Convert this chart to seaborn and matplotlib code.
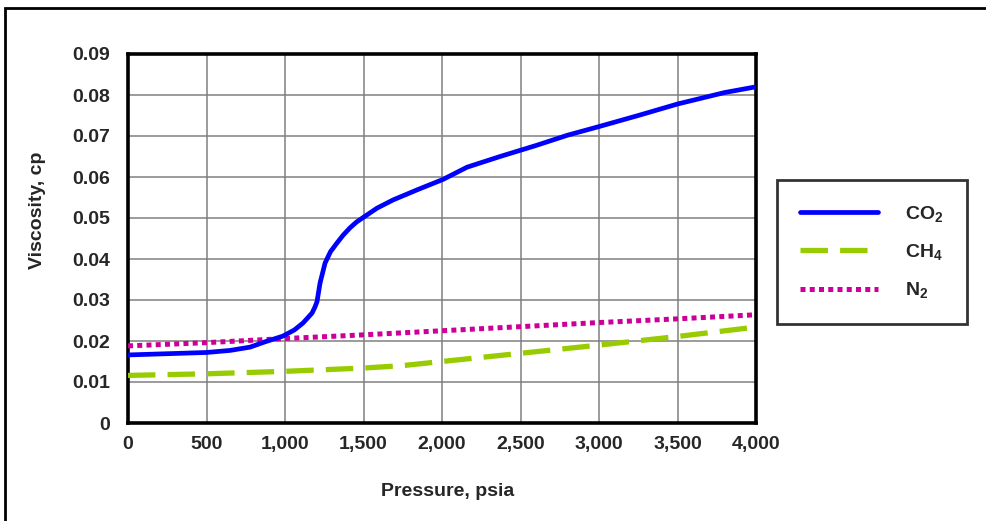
import matplotlib
matplotlib.use("Agg")
import matplotlib.pyplot as plt
import matplotlib.patches as mpatches
import seaborn as sns

# values
co2_p = [0, 250, 500, 650, 777, 873, 987, 1060, 1115, 1172, 1191, 1204, 1223, 1255, 1290,
         1331, 1370, 1414, 1455, 1497, 1586, 1688, 1850, 2006, 2160, 2370, 2600, 2800, 3000,
         3250, 3500, 3800, 4000]
co2_v = [0.0166, 0.0169, 0.0172, 0.0177, 0.0185, 0.0198, 0.0212, 0.0227, 0.0244, 0.0268,
         0.0283, 0.0296, 0.0341, 0.0390, 0.0418, 0.0439, 0.0458, 0.0476, 0.0490, 0.0501,
         0.0524, 0.0544, 0.0570, 0.0594, 0.0624, 0.0650, 0.0677, 0.0702, 0.0723, 0.0750,
         0.0778, 0.0806, 0.0820]

ch4_p = [0, 500, 1000, 1500, 1750, 2000, 2500, 3000, 3500, 4000]
ch4_v = [0.0116, 0.0120, 0.0126, 0.0134, 0.0140, 0.0150, 0.0170, 0.0190, 0.0211, 0.0234]

n2_p = [0, 500, 1000, 1500, 2000, 2500, 3000, 3500, 4000]
n2_v = [0.0188, 0.0196, 0.0206, 0.0215, 0.0225, 0.0235, 0.0245, 0.0254, 0.0264]

labels = ["CO$_2$", "CH$_4$", "N$_2$"]
x_ticks = [0, 500, 1000, 1500, 2000, 2500, 3000, 3500, 4000]
y_ticks = [0, 0.01, 0.02, 0.03, 0.04, 0.05, 0.06, 0.07, 0.08, 0.09]

sns.set_style("white")
plt.rcParams["font.family"] = ["Liberation Sans", "DejaVu Sans"]
plt.rcParams["font.weight"] = "bold"
plt.rcParams["mathtext.fontset"] = "custom"
plt.rcParams["mathtext.rm"] = "Liberation Sans:bold"
plt.rcParams["mathtext.it"] = "Liberation Sans:bold"
plt.rcParams["mathtext.bf"] = "Liberation Sans:bold"

fig = plt.figure(figsize=(9.86, 5.21), dpi=100)
ax = fig.add_axes([128 / 986, 1 - 423 / 521, 628 / 986, 369 / 521])

# outer frame (only top and left edges visible)
fig.patches.append(mpatches.Rectangle((5 / 986, -0.1), 1.2, 1 - 8 / 521 + 0.1,
                                      transform=fig.transFigure, fill=False,
                                      edgecolor="black", lw=2))

sns.lineplot(x=n2_p, y=n2_v, ax=ax, color="#CC0099", lw=3.6,
             linestyle=(0, (1.0, 0.85)), label=labels[2], zorder=3)
sns.lineplot(x=ch4_p, y=ch4_v, ax=ax, color="#99CC00", lw=3.8,
             linestyle=(0, (5.2, 2.3)), label=labels[1], zorder=3)
sns.lineplot(x=co2_p, y=co2_v, ax=ax, color="#0000FF", lw=3.4,
             label=labels[0], zorder=4)

ax.set_xlim(0, 4000)
ax.set_ylim(0, 0.09)
ax.set_xticks(x_ticks)
ax.set_yticks(y_ticks)
ax.set_xticklabels([f"{t:,}" for t in x_ticks])
ax.set_yticklabels(["0" if t == 0 else f"{t:.2f}" for t in y_ticks])
ax.tick_params(axis="both", labelsize=14, length=4, width=1, color="#808080")
ax.tick_params(axis="x", pad=15)
ax.tick_params(axis="y", pad=9)
for lab in ax.get_xticklabels():
    lab.set_fontweight("bold")
    lab.set_verticalalignment("baseline")
for lab in ax.get_yticklabels():
    lab.set_fontweight("bold")
ax.grid(True, color="#808080", lw=1.1)
ax.set_axisbelow(True)
for s in ax.spines.values():
    s.set_visible(True)
    s.set_color("black")
    s.set_linewidth(2.6)

ax.set_xlabel("")
ax.set_ylabel("")
fig.text(448 / 986, 1 - 492 / 521, "Pressure, psia", fontsize=14, fontweight="bold",
         ha="center", va="center")
fig.text(38 / 986, 1 - 210 / 521, "Viscosity, cp", fontsize=14, fontweight="bold",
         ha="center", va="center", rotation=90)

handles, labs = ax.get_legend_handles_labels()
order = [labs.index(l) for l in labels]
ax.legend([handles[i] for i in order], [labs[i] for i in order],
          loc="center", bbox_to_anchor=(872 / 986, 1 - 252 / 521),
          bbox_transform=fig.transFigure, frameon=True, fancybox=False,
          edgecolor="black", fontsize=14, handlelength=4.0, handletextpad=1.4,
          labelspacing=0.95, borderpad=1.2, borderaxespad=0)
ax.get_legend().get_frame().set_linewidth(2)

plt.savefig("out.png", dpi=100)
